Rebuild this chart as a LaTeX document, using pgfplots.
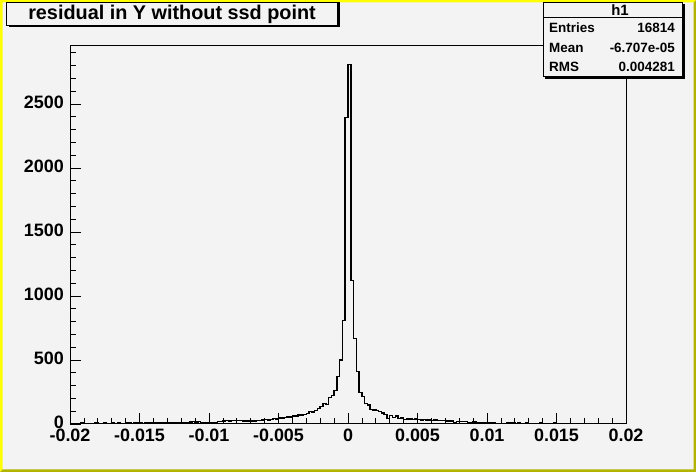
\documentclass[border=0pt]{standalone}
\usepackage{pgfplots}
\pgfplotsset{compat=1.18}
\usepackage{fontspec}
\setmainfont{Liberation Sans}

\definecolor{rootbg}{RGB}{243,243,243}
\definecolor{rootyellow}{RGB}{255,255,0}
\definecolor{rootolive}{RGB}{178,178,0}

\begin{document}
\begin{tikzpicture}
% canvas
\fill[rootbg] (0,0) rectangle (696bp,472bp);
\useasboundingbox (0,0) rectangle (696bp,472bp);
\fill[rootyellow] (0,0) -- (0,472bp) -- (696bp,472bp) -- (693.5bp,469.5bp) -- (2.5bp,469.5bp) -- (2.5bp,2.5bp) -- cycle;
\fill[rootolive] (0,0) -- (696bp,0) -- (696bp,472bp) -- (693.5bp,469.5bp) -- (693.5bp,2.5bp) -- (2.5bp,2.5bp) -- cycle;

\begin{axis}[
  at={(70bp,48bp)}, anchor=south west, scale only axis,
  width=556bp, height=378bp,
  xmin=-0.02, xmax=0.02, ymin=0, ymax=2953,
  axis line style={line width=1bp},
  xtick={-0.02,-0.015,-0.01,-0.005,0,0.005,0.01,0.015,0.02},
  xticklabels={-0.02,-0.015,-0.01,-0.005,0,0.005,0.01,0.015,0.02},
  minor x tick num=4,
  ytick={0,500,1000,1500,2000,2500},
  yticklabels={0,500,1000,1500,2000,2500},
  minor ytick={100,200,...,2900},
  xtick pos=bottom, ytick pos=left,
  tick align=inside,
  major tick length=11bp, minor tick length=5.5bp,
  every tick/.style={black, line width=0.8bp},
  ticklabel style={font=\fontsize{18}{20}\selectfont\bfseries},
  xticklabel style={inner sep=0pt, anchor=north, yshift=-5bp},
  yticklabel style={inner sep=0pt, anchor=east, xshift=-6bp, yshift=1.5bp},
  scaled x ticks=false,
]
\addplot[const plot mark left, black, line width=1.5bp] coordinates {
(-0.0200,3)(-0.0198,5)(-0.0196,2)(-0.0194,4)(-0.0192,6)(-0.0190,3)(-0.0188,5)(-0.0186,4)(-0.0184,3)(-0.0182,6)
(-0.0180,5)(-0.0178,4)(-0.0176,7)(-0.0174,4)(-0.0172,5)(-0.0170,6)(-0.0168,4)(-0.0166,8)(-0.0164,5)(-0.0162,4)
(-0.0160,6)(-0.0158,7)(-0.0156,5)(-0.0154,6)(-0.0152,8)(-0.0150,6)(-0.0148,5)(-0.0146,7)(-0.0144,9)(-0.0142,6)
(-0.0140,8)(-0.0138,7)(-0.0136,9)(-0.0134,8)(-0.0132,10)(-0.0130,9)(-0.0128,8)(-0.0126,11)(-0.0124,9)(-0.0122,10)
(-0.0120,12)(-0.0118,10)(-0.0116,13)(-0.0114,14)(-0.0112,18)(-0.0110,17)(-0.0108,19)(-0.0106,11)(-0.0104,12)(-0.0102,10)
(-0.0100,12)(-0.0098,11)(-0.0096,13)(-0.0094,21)(-0.0092,20)(-0.0090,22)(-0.0088,26)(-0.0086,25)(-0.0084,27)(-0.0082,26)
(-0.0080,28)(-0.0078,29)(-0.0076,24)(-0.0074,23)(-0.0072,24)(-0.0070,23)(-0.0068,24)(-0.0066,26)(-0.0064,27)(-0.0062,30)
(-0.0060,34)(-0.0058,33)(-0.0056,36)(-0.0054,42)(-0.0052,41)(-0.0050,47)(-0.0048,46)(-0.0046,50)(-0.0044,55)(-0.0042,56)
(-0.0040,62)(-0.0038,63)(-0.0036,70)(-0.0034,69)(-0.0032,74)(-0.0030,81)(-0.0028,96)(-0.0026,95)(-0.0024,104)(-0.0022,120)
(-0.0020,138)(-0.0018,159)(-0.0016,151)(-0.0014,208)(-0.0012,221)(-0.0010,260)(-0.0008,372)(-0.0006,500)(-0.0004,810)(-0.0002,2396)
(0.0000,2810)(0.0002,1120)(0.0004,667)(0.0006,409)(0.0008,245)(0.0010,215)(0.0012,160)(0.0014,150)(0.0016,115)(0.0018,110)
(0.0020,104)(0.0022,96)(0.0024,85)(0.0026,75)(0.0028,44)(0.0030,66)(0.0032,52)(0.0034,62)(0.0036,44)(0.0038,45)
(0.0040,36)(0.0042,38)(0.0044,39)(0.0046,37)(0.0048,38)(0.0050,34)(0.0052,33)(0.0054,34)(0.0056,32)(0.0058,30)
(0.0060,29)(0.0062,30)(0.0064,28)(0.0066,28)(0.0068,27)(0.0070,23)(0.0072,24)(0.0074,23)(0.0076,6)(0.0078,18)
(0.0080,21)(0.0082,20)(0.0084,21)(0.0086,8)(0.0088,13)(0.0090,14)(0.0092,12)(0.0094,13)(0.0096,10)(0.0098,11)
(0.0100,10)(0.0102,9)(0.0104,10)(0.0106,3)(0.0108,4)(0.0110,3)(0.0112,4)(0.0114,10)(0.0116,9)(0.0118,10)
(0.0120,5)(0.0122,6)(0.0124,4)(0.0126,5)(0.0128,6)(0.0130,5)(0.0132,4)(0.0134,5)(0.0136,3)(0.0138,6)
(0.0140,4)(0.0142,5)(0.0144,3)(0.0146,4)(0.0148,6)(0.0150,3)(0.0152,5)(0.0154,4)(0.0156,2)(0.0158,5)
(0.0160,4)(0.0162,3)(0.0164,5)(0.0166,4)(0.0168,3)(0.0170,2)(0.0172,4)(0.0174,3)(0.0176,5)(0.0178,2)
(0.0180,3)(0.0182,4)(0.0184,2)(0.0186,3)(0.0188,4)(0.0190,2)(0.0192,3)(0.0194,2)(0.0196,3)(0.0198,2)
(0.0200,2)
};
\end{axis}

% title box
\fill[black] (8.5bp,444.5bp) rectangle (339.5bp,469.5bp);
\filldraw[fill=rootbg, draw=black, line width=1bp] (6.5bp,469.5bp) rectangle (337.5bp,446.5bp);
\node[font=\fontsize{19.9}{22}\selectfont\bfseries, inner sep=0pt] at (172bp,458bp) {residual in Y without ssd point};

% stats box
\fill[black] (545bp,393bp) rectangle (685bp,467.5bp);
\filldraw[fill=rootbg, draw=black, line width=1bp] (543bp,469.5bp) rectangle (682.5bp,395bp);
\draw[black, line width=1bp] (543bp,454.5bp) -- (682.5bp,454.5bp);
\node[font=\fontsize{15}{16}\selectfont\bfseries, inner sep=0pt] at (620bp,462bp) {h1};
\begin{scope}[every node/.style={font=\fontsize{13.5}{15}\selectfont\bfseries, inner sep=0pt}]
\node[anchor=west] at (549bp,444bp) {Entries};
\node[anchor=east] at (675bp,444bp) {16814};
\node[anchor=west] at (549bp,424.5bp) {Mean};
\node[anchor=east] at (675bp,424.5bp) {-6.707e-05};
\node[anchor=west] at (549bp,405bp) {RMS};
\node[anchor=east] at (675bp,405bp) {0.004281};
\end{scope}
\end{tikzpicture}
\end{document}
